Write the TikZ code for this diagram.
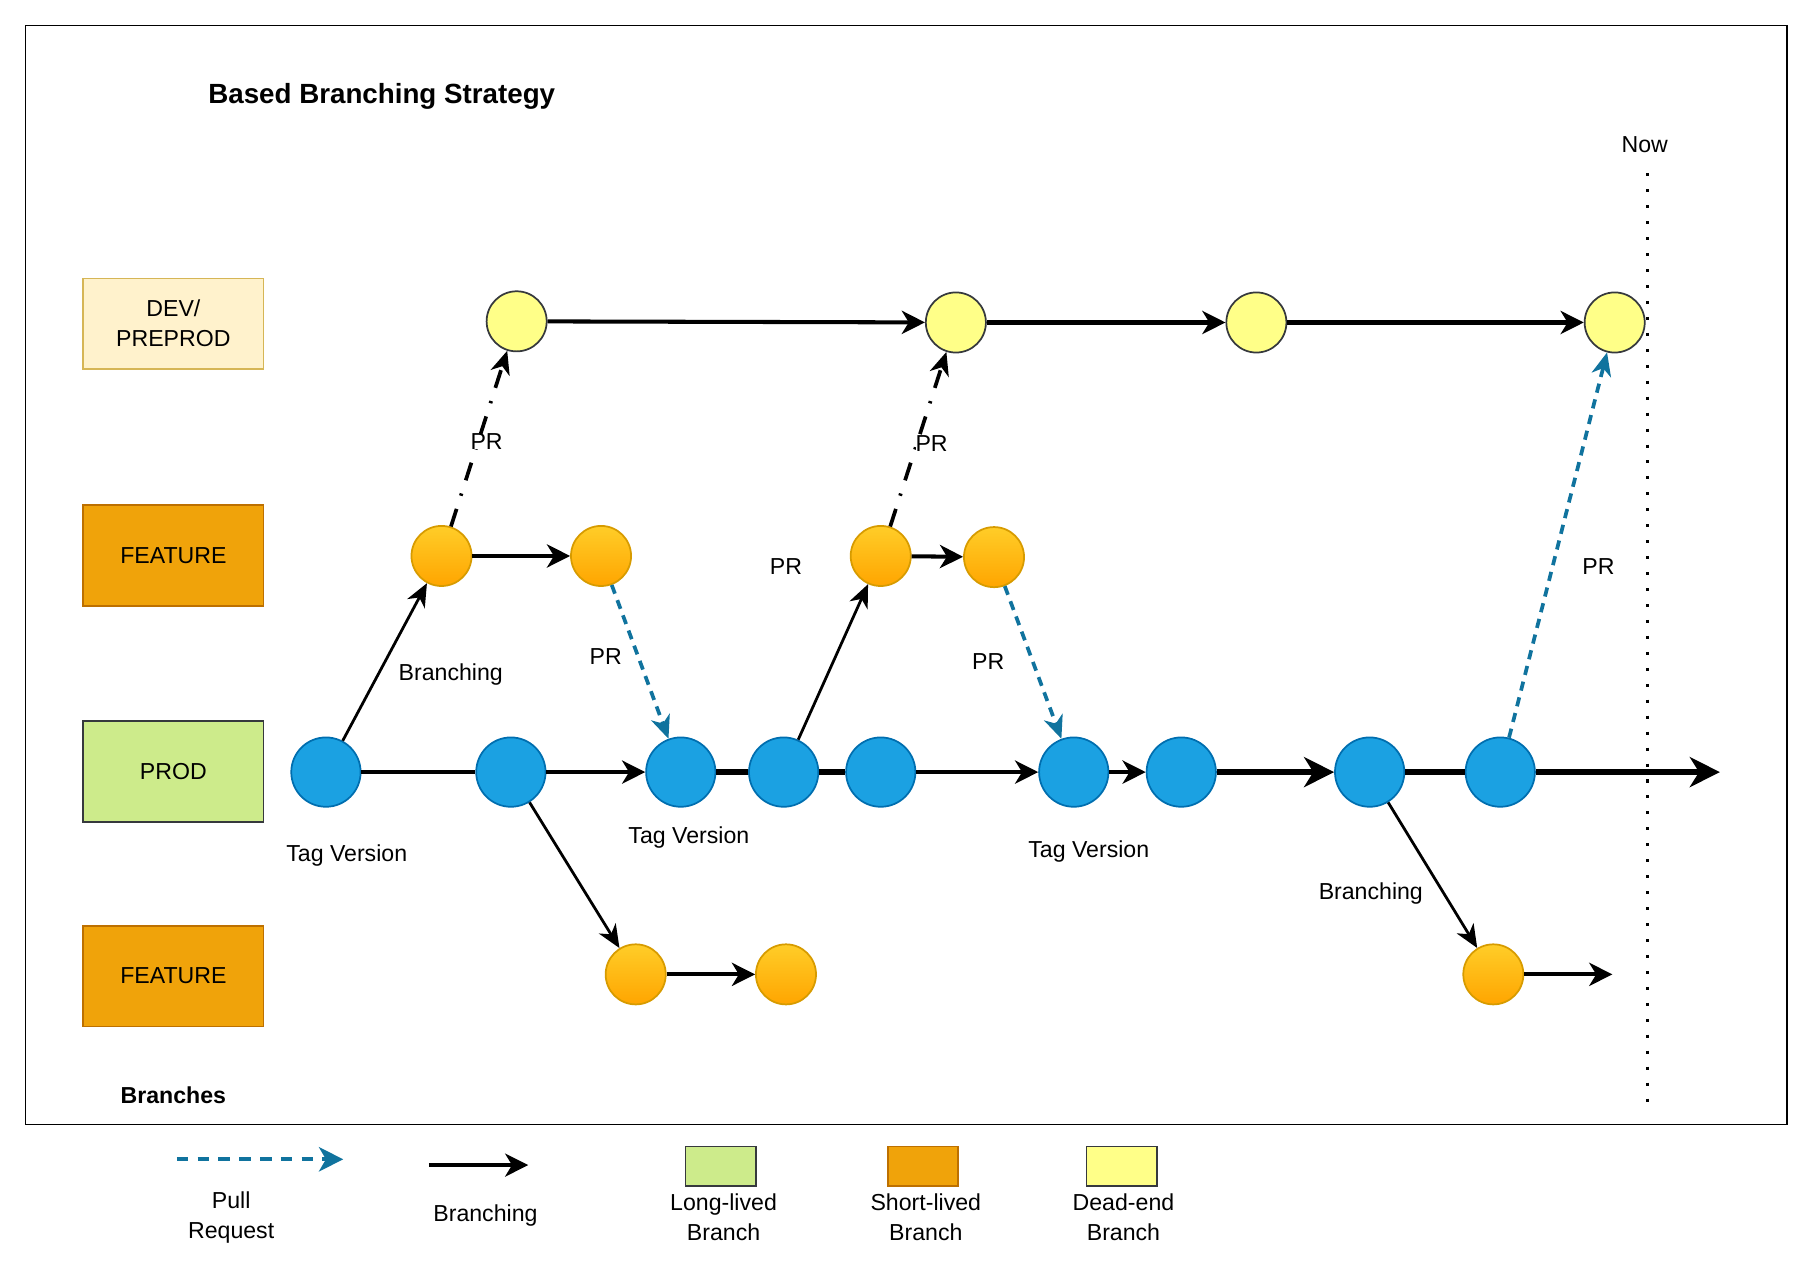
\documentclass[tikz,border=0pt]{standalone}
\usepackage{fontspec}
\setmainfont{Liberation Sans}
\usetikzlibrary{arrows.meta}

\definecolor{prodfill}{HTML}{1BA1E2}
\definecolor{prodline}{HTML}{006EAF}
\definecolor{devfill}{HTML}{FFFF88}
\definecolor{darkline}{HTML}{36393D}
\definecolor{feattop}{HTML}{FFCD28}
\definecolor{featbot}{HTML}{FFA500}
\definecolor{featline}{HTML}{D79B00}
\definecolor{devboxfill}{HTML}{FFF2CC}
\definecolor{devboxline}{HTML}{D6B656}
\definecolor{featboxfill}{HTML}{F0A30A}
\definecolor{featboxline}{HTML}{BD7000}
\definecolor{prodboxfill}{HTML}{CDEB8B}
\definecolor{prblue}{HTML}{10739E}

\tikzset{every picture/.style={line width=0.75pt}}
\tikzset{
  prodnode/.style={circle, draw=prodline, fill=prodfill, minimum size=30pt, inner sep=0pt, line width=0.75pt},
  devnode/.style={circle, draw=darkline, fill=devfill, minimum size=26pt, inner sep=0pt, line width=0.75pt},
  featnode/.style={circle, draw=featline, top color=feattop, bottom color=featbot, minimum size=26pt, inner sep=0pt, line width=0.75pt},
  lanebox/.style={draw, minimum width=78pt, minimum height=43.5pt, inner sep=0pt, line width=0.75pt, align=center},
  keybox/.style={draw, minimum width=30.5pt, minimum height=17pt, inner sep=0pt, line width=0.75pt},
  txt/.style={inner sep=0.75pt, align=center},
  flow/.style={line width=1.75pt, -{Stealth[length=10pt,width=10pt,inset=3pt]}},
  bigflow/.style={line width=2.6pt, -{Stealth[length=13pt,width=13pt,inset=4pt]}},
  plain/.style={line width=1.75pt},
  heavy/.style={line width=2.4pt},
  branchline/.style={line width=1.2pt, -{Stealth[length=10pt,width=8.5pt,inset=3pt]}},
  prline/.style={line width=1.6pt, draw=prblue, dash pattern=on 4pt off 3pt, -{Stealth[length=10pt,width=8.5pt,inset=3pt]}},
  prdot/.style={line width=1.6pt, dash pattern=on 8pt off 6pt on 1pt off 6pt, -{Stealth[length=10pt,width=8.5pt,inset=3pt]}}
}

\begin{document}
\begin{tikzpicture}[x=0.5pt,y=0.5pt,yscale=-1,xscale=1]
\useasboundingbox (0,0) rectangle (1566,1099);

%Shape: Rectangle [id:frame]
\draw  (22,22) rectangle (1546,973) ;
% Text Node
\node [txt, anchor=west, font=\fontsize{12}{14}\selectfont\bfseries] (title) at (178,83) {Based Branching Strategy};
% Text Node
\node [txt] (now) at (1423,125) {Now};
%Straight Lines [id:nowline]
\draw  [line width=1.3pt, dash pattern=on 1.3pt off 5.6pt]  (1425,150) -- (1425,957) ;

%Shape: Lanes
\node [lanebox, draw=devboxline, fill=devboxfill, minimum height=39pt] (lanedev) at (150,280) {DEV/\\[1pt]PREPROD};
\node [lanebox, draw=featboxline, fill=featboxfill] (lanefa) at (150,480.5) {FEATURE};
\node [lanebox, draw=darkline, fill=prodboxfill] (laneprod) at (150,667.5) {PROD};
\node [lanebox, draw=featboxline, fill=featboxfill] (lanefb) at (150,844.5) {FEATURE};
% Text Node
\node [txt, font=\bfseries] (branches) at (150,948) {Branches};

%Shape: Circles DEV/PREPROD
\node [devnode] (d1) at (447,278) {};
\node [devnode] (d2) at (827,279) {};
\node [devnode] (d3) at (1087,279) {};
\node [devnode] (d4) at (1397,279) {};

%Shape: Circles FEATURE
\node [featnode] (fa1) at (382,481) {};
\node [featnode] (fa2) at (520,481) {};
\node [featnode] (fa3) at (762,481) {};
\node [featnode] (fa4) at (860,482) {};
\node [featnode] (fb1) at (550,843) {};
\node [featnode] (fb2) at (680,843) {};
\node [featnode] (fb3) at (1292,843) {};

%Shape: Circles PROD
\node [prodnode] (p1) at (282,668) {};
\node [prodnode] (p2) at (442,668) {};
\node [prodnode] (p3) at (589,668) {};
\node [prodnode] (p4) at (678,668) {};
\node [prodnode] (p5) at (762,668) {};
\node [prodnode] (p6) at (929,668) {};
\node [prodnode] (p7) at (1022,668) {};
\node [prodnode] (p8) at (1185,668) {};
\node [prodnode] (p9) at (1298,668) {};
\coordinate (prodend) at (1488,668);
\coordinate (fbend) at (1395,843);

%Straight Lines DEV/PREPROD
\draw [flow] (d1) -- (d2) ;
\draw [flow] (d2) -- (d3) ;
\draw [flow] (d3) -- (d4) ;

%Straight Lines PROD
\draw [plain] (p1) -- (p2) ;
\draw [flow] (p2) -- (p3) ;
\draw [heavy] (p3) -- (p4) ;
\draw [heavy] (p4) -- (p5) ;
\draw [flow] (p5) -- (p6) ;
\draw [flow] (p6) -- (p7) ;
\draw [bigflow] (p7) -- (p8) ;
\draw [line width=2.6pt] (p8) -- (p9) ;
\draw [bigflow] (p9) -- (prodend) ;

%Straight Lines FEATURE
\draw [flow] (fa1) -- (fa2) ;
\draw [flow] (fa3) -- (fa4) ;
\draw [flow] (fb1) -- (fb2) ;
\draw [flow] (fb3) -- (fbend) ;

%Straight Lines branching
\draw [branchline] (p1) -- (fa1) ;
\draw [branchline] (p4) -- (fa3) ;
\draw [branchline] (p2) -- (fb1) ;
\draw [branchline] (p8) -- (fb3) ;

%Straight Lines pull requests
\draw [prdot] (fa1) -- (d1) ;
\draw [prdot] (fa3) -- (d2) ;
\draw [prline] (fa2) -- (p3) ;
\draw [prline] (fa4) -- (p6) ;
\draw [prline] (p9) -- (d4) ;

% Text Node
\node [txt, fill=white, inner sep=0pt] (pr1) at (421,382) {PR};
\node [txt, fill=white, inner sep=0pt] (pr2) at (806,384) {PR};
\node [txt] (pr3) at (524,568) {PR};
\node [txt] (pr4) at (680,490) {PR};
\node [txt] (pr5) at (855,572) {PR};
\node [txt] (pr6) at (1383,490) {PR};
% Text Node
\node [txt] (br1) at (390,584) {Branching};
\node [txt] (br2) at (1186,773) {Branching};
% Text Node
\node [txt] (tag1) at (300,740) {Tag Version};
\node [txt] (tag2) at (596,725) {Tag Version};
\node [txt] (tag3) at (942,737) {Tag Version};

%Legend
\coordinate (keyprA) at (153,1003);
\coordinate (keyprB) at (297,1003);
\draw [prline, line width=1.75pt, dash pattern=on 5pt off 4pt, -{Stealth[length=10.5pt,width=10.5pt,inset=3pt]}] (keyprA) -- (keyprB) ;
\coordinate (keybrA) at (371,1008);
\coordinate (keybrB) at (457,1008);
\draw [flow, line width=1.5pt] (keybrA) -- (keybrB) ;
\node [keybox, draw=darkline, fill=prodboxfill] (keylong) at (623.5,1009) {};
\node [keybox, draw=featboxline, fill=featboxfill] (keyshort) at (798.5,1009) {};
\node [keybox, draw=darkline, fill=devfill] (keydead) at (970.5,1009) {};
% Text Node
\node [txt] (keyprtxt) at (200,1053) {Pull\\[1pt]Request};
\node [txt] (keybrtxt) at (420,1052) {Branching};
\node [txt] (keylongtxt) at (626,1053) {Long-lived\\[1pt]Branch};
\node [txt] (keyshorttxt) at (801,1053) {Short-lived\\[1pt]Branch};
\node [txt] (keydeadtxt) at (972,1053) {Dead-end\\[1pt]Branch};

\end{tikzpicture}
\end{document}
